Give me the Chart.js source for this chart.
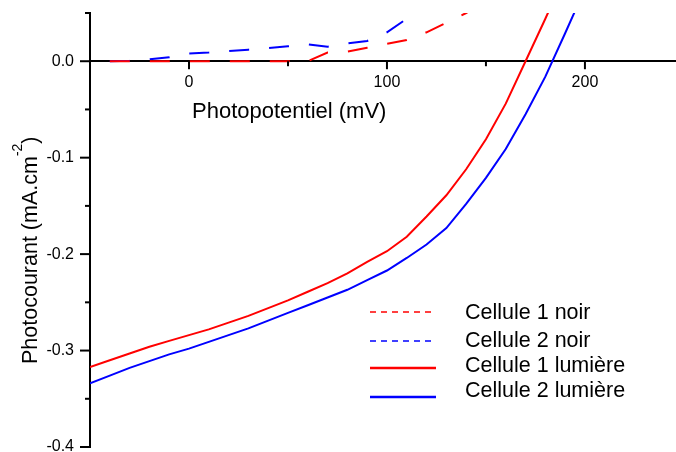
<!DOCTYPE html>
<html lang="fr">
<head>
<meta charset="utf-8">
<title>Photocourant</title>
<script src="https://cdn.jsdelivr.net/npm/chart.js@4.4.1/dist/chart.umd.min.js"></script>
<style>
  html, body { margin: 0; padding: 0; background: #ffffff; }
  canvas { display: block; }
</style>
</head>
<body>
<canvas id="photoChart" width="676" height="452"></canvas>
<script>
// Photopotentiel (mV) des mesures
const potentielNoir = [-40, -30, -20, -10, 0, 10, 20, 30, 40, 50, 60, 70, 80, 90, 100, 110, 120, 130, 140, 150];
const potentielLumiere = [-50, -40, -30, -20, -10, 0, 10, 20, 30, 40, 50, 60, 70, 80, 90, 100, 110, 120, 130, 140, 150, 160, 170, 180, 190, 200];

// Photocourant (mA.cm-2)
const cellule1Noir = [0, 0, 0, 0, 0, 0, 0, 0, 0, 0, 0, 0.009, 0.010, 0.014, 0.018, 0.022, 0.030, 0.040, 0.050, 0.062];
const cellule2Noir = [0, 0.0005, 0.002, 0.004, 0.008, 0.009, 0.0105, 0.012, 0.0135, 0.0155, 0.0175, 0.015, 0.0185, 0.021, 0.030, 0.044, 0.060];
const cellule1Lumiere = [-0.317, -0.310, -0.303, -0.296, -0.290, -0.284, -0.278, -0.271, -0.264, -0.256, -0.248, -0.239, -0.230,
    -0.220, -0.208, -0.197, -0.182, -0.161, -0.139, -0.112, -0.081, -0.044, 0.000, 0.044, 0.090];
const cellule2Lumiere = [-0.334, -0.326, -0.318, -0.311, -0.304, -0.298, -0.291, -0.284, -0.277, -0.269, -0.261, -0.253, -0.245,
    -0.237, -0.227, -0.217, -0.204, -0.190, -0.173, -0.148, -0.121, -0.091, -0.055, -0.016, 0.029, 0.075];

// Légendes et titres
const seriesLabels = ['Cellule 1 noir', 'Cellule 2 noir', 'Cellule 1 lumière', 'Cellule 2 lumière'];
const xTitle = 'Photopotentiel (mV)';
const yTitle = 'Photocourant (mA.cm';
const yTitleExp = '-2';

const FONT = "'Liberation Sans', Arial, sans-serif";
Chart.defaults.font.family = FONT;
Chart.defaults.color = '#000';

function toPoints(xs, ys) {
    return ys.map((y, i) => ({ x: xs[i], y: y }));
}

// plugin pour les graduations, les titres d'axes et la légende
const decorPlugin = {
    id: 'decor',
    afterDraw(chart) {
        const ctx = chart.ctx;
        const xs = chart.scales.x;
        const ys = chart.scales.y;
        const axeY = ys.getPixelForValue(0);

        ctx.save();
        ctx.strokeStyle = '#000';
        ctx.lineWidth = 2;

        // graduations axe X (sous l'axe)
        xs.ticks.forEach(t => {
            if (t.value <= xs.min || t.value % 50 !== 0) return;
            const px = xs.getPixelForValue(t.value);
            const len = t.value % 100 === 0 ? 8 : 5;
            ctx.beginPath();
            ctx.moveTo(px, axeY);
            ctx.lineTo(px, axeY + len);
            ctx.stroke();
        });

        // graduations axe Y (à gauche)
        ys.ticks.forEach(t => {
            const py = ys.getPixelForValue(t.value);
            const major = Math.round(t.value * 100) % 10 === 0;
            const len = major ? 10 : 5;
            ctx.beginPath();
            ctx.moveTo(xs.left, py);
            ctx.lineTo(xs.left - len, py);
            ctx.stroke();
        });

        // titre axe X
        ctx.fillStyle = '#000';
        ctx.font = '22px ' + FONT;
        ctx.textAlign = 'left';
        ctx.textBaseline = 'alphabetic';
        ctx.fillText(xTitle, 192, 118);

        // titre axe Y avec exposant
        ctx.save();
        ctx.translate(37, 364);
        ctx.rotate(-Math.PI / 2);
        ctx.font = '21.5px ' + FONT;
        ctx.fillText(yTitle, 0, 0);
        let w = ctx.measureText(yTitle).width;
        ctx.font = '14px ' + FONT;
        ctx.fillText(yTitleExp, w, -15);
        w += ctx.measureText(yTitleExp).width;
        ctx.font = '21.5px ' + FONT;
        ctx.fillText(')', w, 0);
        ctx.restore();

        // légende
        const sampleY = [312, 341, 368, 397];
        const textY = [319, 347, 372, 397];
        chart.data.datasets.forEach((ds, i) => {
            const dashed = ds.borderDash && ds.borderDash.length;
            ctx.beginPath();
            ctx.strokeStyle = ds.borderColor;
            ctx.lineWidth = dashed ? 1.7 : 2.6;
            ctx.setLineDash(dashed ? [6, 5] : []);
            ctx.moveTo(370, sampleY[i]);
            ctx.lineTo(dashed ? 431 : 436, sampleY[i]);
            ctx.stroke();
            ctx.setLineDash([]);
            ctx.fillStyle = '#000';
            ctx.font = '21.5px ' + FONT;
            ctx.fillText(ds.label, 465, textY[i]);
        });
        ctx.restore();
    }
};

const ctx = document.getElementById('photoChart').getContext('2d');

new Chart(ctx, {
    type: 'line',
    data: {
        datasets: [
            {
                label: seriesLabels[0],
                data: toPoints(potentielNoir, cellule1Noir),
                borderColor: '#ff0000',
                borderDash: [20, 20],
                borderWidth: 2,
                pointRadius: 0,
                fill: false
            },
            {
                label: seriesLabels[1],
                data: toPoints(potentielNoir, cellule2Noir),
                borderColor: '#0000ff',
                borderDash: [20, 20],
                borderWidth: 2,
                pointRadius: 0,
                fill: false
            },
            {
                label: seriesLabels[2],
                data: toPoints(potentielLumiere, cellule1Lumiere),
                borderColor: '#ff0000',
                borderWidth: 2,
                pointRadius: 0,
                fill: false
            },
            {
                label: seriesLabels[3],
                data: toPoints(potentielLumiere, cellule2Lumiere),
                borderColor: '#0000ff',
                borderWidth: 2,
                pointRadius: 0,
                fill: false
            }
        ]
    },
    options: {
        responsive: false,
        animation: false,
        devicePixelRatio: 1,
        layout: { padding: { top: 13, bottom: 5, left: 0, right: 0 } },
        plugins: {
            legend: { display: false },
            tooltip: { enabled: false }
        },
        scales: {
            x: {
                type: 'linear',
                min: -50,
                max: 246,
                position: { y: 0 },
                grid: { display: false, tickLength: 8 },
                border: { color: '#000', width: 2 },
                ticks: {
                    stepSize: 50,
                    autoSkip: false,
                    maxRotation: 0,
                    padding: 4,
                    font: { size: 16 },
                    callback: v => (v % 100 === 0 ? String(v) : '')
                },
                afterFit: scale => {
                    scale.paddingLeft = 0;
                    scale.paddingRight = 0;
                }
            },
            y: {
                type: 'linear',
                min: -0.4,
                max: 0.05,
                grid: { display: false, tickLength: 8 },
                border: { color: '#000', width: 2 },
                ticks: {
                    stepSize: 0.05,
                    autoSkip: false,
                    padding: 8,
                    font: { size: 16 },
                    callback: v => {
                        const r = Math.round(v * 100);
                        return r % 10 === 0 ? (r / 100).toFixed(1) : '';
                    }
                },
                afterFit: scale => {
                    scale.width = 90;
                    scale.paddingTop = 0;
                    scale.paddingBottom = 0;
                }
            }
        }
    },
    plugins: [decorPlugin]
});
</script>
</body>
</html>
